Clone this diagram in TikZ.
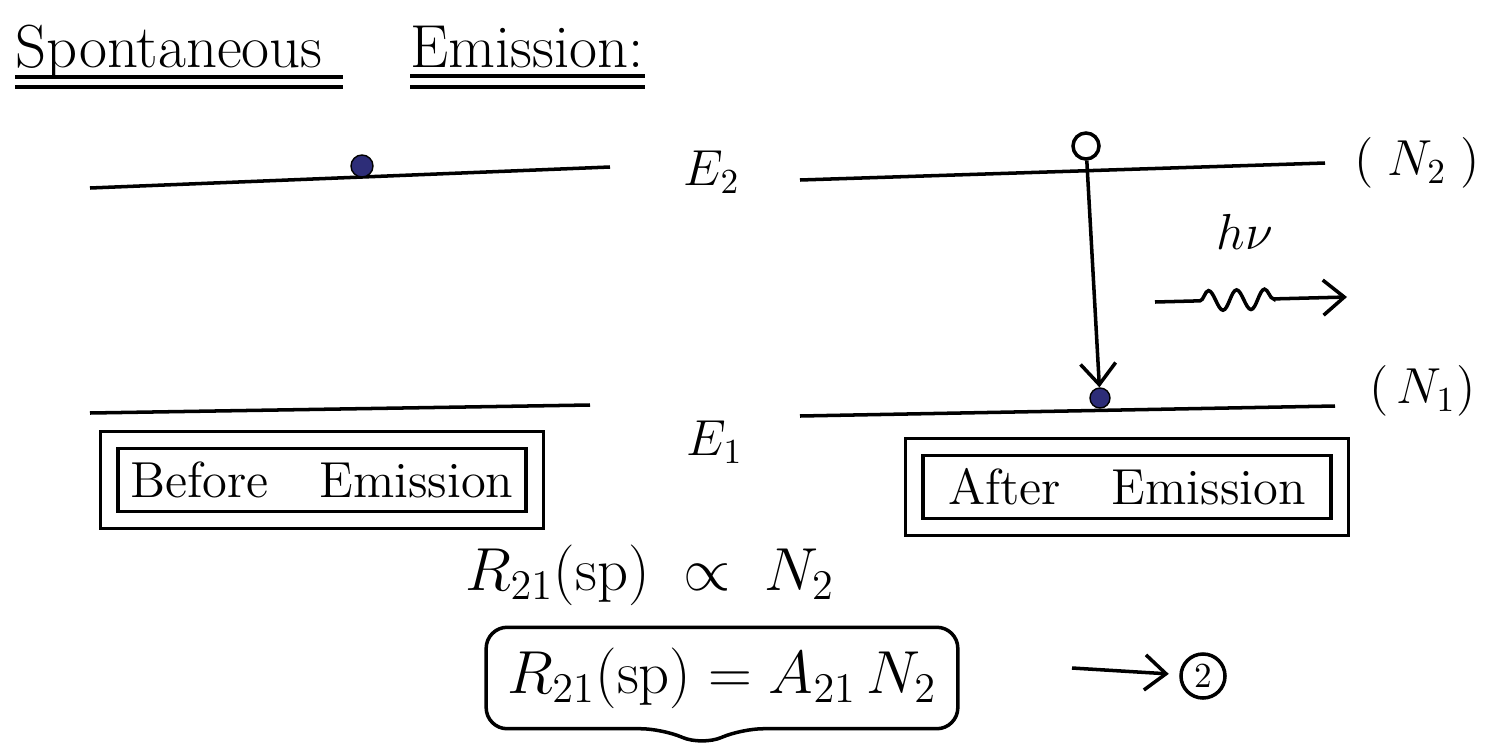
\documentclass[tikz,border=0pt]{standalone}
\usepackage{amsmath}
\usepackage{amssymb}
\usetikzlibrary{arrows.meta,positioning,calc,decorations.pathmorphing}
\definecolor{dotblue}{RGB}{45,45,120}

\begin{document}
\begin{tikzpicture}[
    x=0.01cm, y=-0.01cm,
    % --- STYLES ---
    level/.style={line width=1pt},
    lbl/.style={font=\Large, inner sep=1pt},
    eqn/.style={font=\LARGE, inner sep=2pt},
    electron/.style={circle, draw=black, fill=dotblue, minimum size=0.22cm, inner sep=0pt},
    hole/.style={circle, draw=black, line width=1pt, fill=white, minimum size=0.26cm, inner sep=0pt},
    stage/.style={
        rectangle, draw=black, line width=0.9pt,
        double, double distance=4pt,
        minimum width=4.25cm, minimum height=0.8cm,
        font=\Large
    },
    flow/.style={->, >={Straight Barb[length=6pt, width=10pt]}, line width=1pt},
    photon/.style={flow, decorate, decoration={snake, amplitude=1mm,
        segment length=2.8mm, pre length=0.45cm, post length=0.6cm}},
    uline/.style={line width=0.9pt}
]
\useasboundingbox (0,0) rectangle (1493,748);

% ===== 1. TITLE =====
\node[font=\LARGE, anchor=base west, inner sep=0pt] (tspont) at (15,67) {Spontaneous};
\node[font=\LARGE, anchor=base west, inner sep=0pt] (temis) at (410,67) {Emission:};

% double underlines
\draw[uline] ([yshift=-0.1cm]tspont.base west) -- ([yshift=-0.1cm,xshift=0.2cm]tspont.base east);
\draw[uline] ([yshift=-0.2cm]tspont.base west) -- ([yshift=-0.2cm,xshift=0.2cm]tspont.base east);
\draw[uline] ([yshift=-0.09cm]temis.base west) -- ([yshift=-0.09cm]temis.base east);
\draw[uline] ([yshift=-0.2cm]temis.base west) -- ([yshift=-0.2cm]temis.base east);

% ===== 2. ENERGY LEVELS =====
\coordinate (bUa) at (90,188);
\coordinate (bUb) at (610,167);
\coordinate (bLa) at (90,413);
\coordinate (bLb) at (590,405);
\coordinate (aUa) at (800,180);
\coordinate (aUb) at (1325,163);
\coordinate (aLa) at (800,416);
\coordinate (aLb) at (1335,406);

\draw[level] (bUa) -- (bUb);
\draw[level] (bLa) -- (bLb);
\draw[level] (aUa) -- (aUb);
\draw[level] (aLa) -- (aLb);

\node[lbl] (E2) at (712,172) {$E_2$};
\node[lbl] (E1) at (715,442) {$E_1$};
\node[lbl, right=0.25cm of aUb] (N2) {$(\;N_2\;)$};
\node[lbl, right=0.3cm of aLb, yshift=0.15cm] (N1) {$(\,N_1)$};

% ===== 3. ELECTRONS & TRANSITION =====
\node[electron] (bdot) at (362,166) {};
\node[hole] (ahole) at (1086,146) {};
\node[electron, minimum size=0.2cm] (adot) at (1100,398) {};

\draw[flow] (ahole) -- (adot);

% emitted photon
\node[lbl] (hnu) at (1245,232) {$h\nu$};
\coordinate (phA) at (1155,302);
\coordinate (phB) at (1347,297);
\draw[photon] (phA) -- (phB);

% ===== 4. STAGE BOXES =====
\node[stage] (before) at (322,480) {Before\quad Emission};
\node[stage] (after) at (1127,487) {After\quad Emission};

% ===== 5. RATE EQUATIONS =====
\node[eqn] (prop) at (650,575) {$R_{21}(\mathrm{sp}) \;\propto\; N_2$};
\node[eqn, minimum width=4.7cm, minimum height=1cm] (rate) at (722,678)
    {$R_{21}(\mathrm{sp}) = A_{21}\,N_2$};
\draw[line width=1pt, rounded corners=6pt]
    (rate.north west) -- (rate.north east) -- (rate.south east)
    -- ($(rate.south)+(20,0)$) -- ($(rate.south)+(-20,17)$)
    -- ($(rate.south)+(-60,0)$) -- (rate.south west) -- cycle;

\node[circle, draw, line width=1pt, minimum size=0.44cm, inner sep=0pt, font=\normalsize] (eqnum) at (1203,676) {2};
\coordinate (eqtail) at (1072,668);
\draw[flow, shorten >=3pt] (eqtail) -- (eqnum);

\end{tikzpicture}
\end{document}
